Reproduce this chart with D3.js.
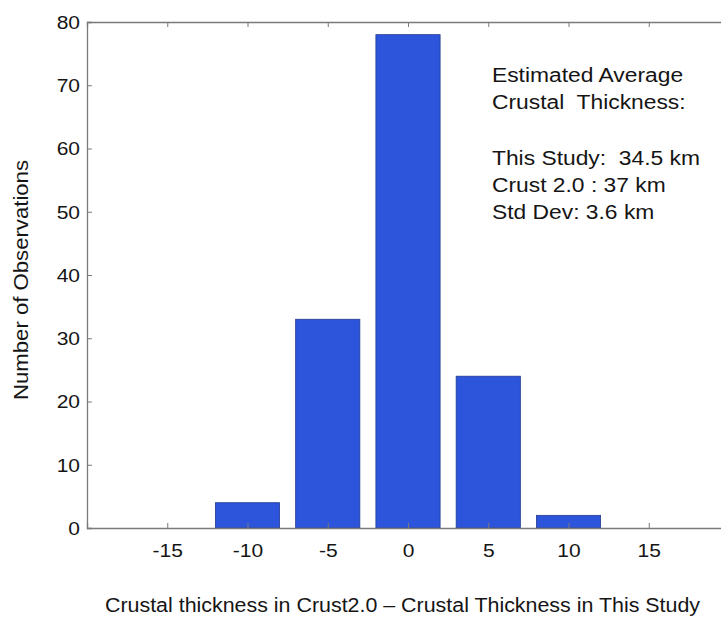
<!DOCTYPE html>
<html>
<head>
<meta charset="utf-8">
<script src="https://cdn.jsdelivr.net/npm/d3@7"></script>
<style>
  html, body { margin: 0; padding: 0; background: #fff; }
  svg text { font-family: "Liberation Sans", Arial, sans-serif; fill: #151515; white-space: pre; }
</style>
</head>
<body>
<svg id="chart" width="721" height="620"></svg>
<script>
// ---- data ----
const binCenters = [-10, -5, 0, 5, 10];
const counts = [4, 33, 78, 24, 2];
const xTicks = [-15, -10, -5, 0, 5, 10, 15];
const xTickLabels = ["-15", "-10", "-5", "0", "5", "10", "15"];
const yTicks = [0, 10, 20, 30, 40, 50, 60, 70, 80];
const noteLines = ["Estimated Average", "Crustal  Thickness:", "", "This Study:  34.5 km", "Crust 2.0 : 37 km", "Std Dev: 3.6 km"];
const xLabel = "Crustal thickness in Crust2.0 \u2013 Crustal Thickness in This Study";
const yLabel = "Number of Observations";

// ---- layout ----
const svg = d3.select("#chart");
const x = d3.scaleLinear().domain([-20, 20]).range([87, 729]);
const y = d3.scaleLinear().domain([0, 80]).range([528, 22]);
const binWidth = 5, barFrac = 0.8;
const axisColor = "#7a7a7a";

function stretch(sel, factor) {
  sel.each(function() {
    const w = this.getComputedTextLength();
    d3.select(this).attr("textLength", w * factor).attr("lengthAdjust", "spacingAndGlyphs");
  });
}
function fitTo(sel, width) {
  sel.attr("textLength", width).attr("lengthAdjust", "spacingAndGlyphs");
}

// bars
svg.append("g").selectAll("rect").data(binCenters).join("rect")
  .attr("x", (d) => x(d - binWidth * barFrac / 2))
  .attr("width", (d) => x(d + binWidth * barFrac / 2) - x(d - binWidth * barFrac / 2))
  .attr("y", (d, i) => y(counts[i]))
  .attr("height", (d, i) => y(0) - y(counts[i]))
  .attr("fill", "#2c55db")
  .attr("stroke", "#233a8f")
  .attr("stroke-width", 0.8);

// axes
const gx = svg.append("g").attr("transform", `translate(0,${y(0)})`)
  .call(d3.axisBottom(x).tickValues(xTicks).tickSize(-5)
    .tickFormat((d, i) => xTickLabels[i]));
const gxTop = svg.append("g").attr("transform", `translate(0,${y(80)})`)
  .call(d3.axisTop(x).tickValues(xTicks).tickSize(-5).tickFormat(""));
const gy = svg.append("g").attr("transform", `translate(${x(-20)},0)`)
  .call(d3.axisLeft(y).tickValues(yTicks).tickSize(-5).tickFormat(d => String(d)));

[gx, gxTop, gy].forEach(g => {
  g.select(".domain").attr("stroke", axisColor).attr("stroke-width", 1.3);
  g.selectAll(".tick line").attr("stroke", axisColor).attr("stroke-width", 1);
  g.selectAll(".tick text").attr("font-size", 17.5).attr("fill", "#151515")
    .attr("font-family", "'Liberation Sans', Arial, sans-serif");
});
gx.selectAll(".tick text").attr("dy", "0").attr("y", 29);
gy.selectAll(".tick text").attr("dy", "0.36em").attr("x", -7);
stretch(gx.selectAll(".tick text"), 1.2);
stretch(gy.selectAll(".tick text"), 1.2);

// annotation
const noteY = [82, 109, 0, 165, 192, 219];
svg.append("g").selectAll("text").data(noteLines).join("text")
  .attr("x", 492)
  .attr("y", (d, i) => noteY[i])
  .attr("font-size", 19.5)
  .text(d => d)
  .call(s => stretch(s.filter(d => d.length), 1.17));

// x label
svg.append("text")
  .attr("x", 105).attr("y", 612)
  .attr("font-size", 20)
  .text(xLabel)
  .call(s => fitTo(s, 595));

// y label
svg.append("text")
  .attr("transform", `translate(28,280) rotate(-90)`)
  .attr("text-anchor", "middle")
  .attr("font-size", 19.5)
  .text(yLabel)
  .call(s => fitTo(s, 240));
</script>
</body>
</html>
